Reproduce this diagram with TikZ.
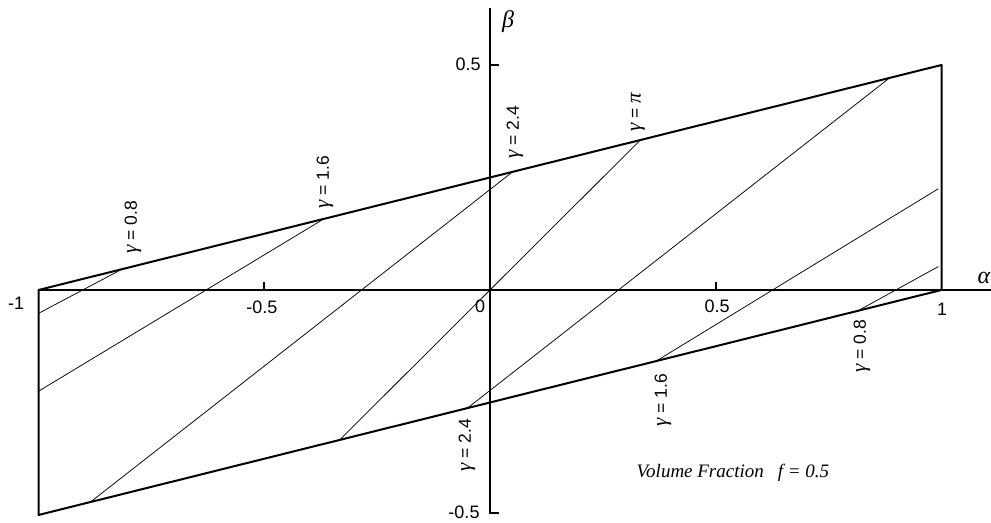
\documentclass[tikz,border=0pt]{standalone}
\usepackage{fontspec}
\setmainfont{Liberation Sans}
\newfontfamily\tms{Liberation Serif}
\newcommand{\gsym}{{\fontsize{21}{21}\selectfont\tms\itshape γ}}
\newcommand{\psym}{{\fontsize{21}{21}\selectfont\tms\itshape π}}
\begin{document}
\begin{tikzpicture}[x=451.5pt,y=450pt,
  bnd/.style={line width=2pt, line join=round},
  gline/.style={line width=0.75pt},
  axisline/.style={line width=1.6pt},
  ticklab/.style={font=\fontsize{18}{18}\selectfont, inner sep=0pt},
  glab/.style={font=\fontsize{17.5}{18}\selectfont, rotate=90, inner sep=0pt},
  axlab/.style={font=\fontsize{24}{24}\selectfont\tms\itshape, inner sep=0pt}
]
\useasboundingbox (-1.0853,-0.5178) rectangle (1.1096,0.6444);
% corners of the region
\coordinate (A) at (-1,0);
\coordinate (B) at (1,0.5);
\coordinate (C) at (1,0);
\coordinate (D) at (-1,-0.5);
% axes
\coordinate (xend) at (1.1096,0);
\coordinate (ytop) at (0,0.6267);
\coordinate (ybot) at (0,-0.4956);
\coordinate (ybt) at (0.0199,-0.4956);
\coordinate (yh) at (0,0.5);
\coordinate (yht) at (0.0199,0.5);
\coordinate (xm) at (-0.5,0);
\coordinate (xmt) at (-0.5,0.0178);
\coordinate (xp) at (0.5,0);
\coordinate (xpt) at (0.5,0.0178);
\draw[axisline] (A) -- (xend);
\draw[axisline] (ytop) -- (ybot) -- (ybt);
\draw[axisline] (yh) -- (yht);
\draw[axisline] (xm) -- (xmt);
\draw[axisline] (xp) -- (xpt);
% boundary
\draw[bnd] (A) -- (B) -- (C) -- (D) -- cycle;
% gamma lines: end points
\coordinate (u08) at (-0.815,0.04625);
\coordinate (e08) at (-1,-0.052);
\coordinate (u16) at (-0.368,0.158);
\coordinate (e16) at (-1,-0.225);
\coordinate (u24) at (0.05,0.2625);
\coordinate (m24) at (-0.885,-0.47125);
\coordinate (upi) at (0.333,0.33325);
\coordinate (lpi) at (-0.333,-0.33325);
\coordinate (l24) at (-0.05,-0.2625);
\coordinate (n24) at (0.885,0.47125);
\coordinate (l16) at (0.368,-0.158);
\coordinate (r16) at (0.993,0.225);
\coordinate (l08) at (0.815,-0.04625);
\coordinate (r08) at (0.993,0.052);
\draw[gline] (u08) -- (e08);
\draw[gline] (u16) -- (e16);
\draw[gline] (u24) -- (m24);
\draw[gline] (upi) -- (lpi);
\draw[gline] (l24) -- (n24);
\draw[gline] (l16) -- (r16);
\draw[gline] (l08) -- (r08);
% tick labels
\node[ticklab] (tm1) at (-1.0498,-0.0289) {-1};
\node[ticklab] (tm05) at (-0.505,-0.0378) {-0.5};
\node[ticklab] (t0) at (-0.0221,-0.0356) {0};
\node[ticklab] (t05) at (0.5028,-0.0356) {0.5};
\node[ticklab] (t1) at (1.0011,-0.0422) {1};
\node[ticklab] (b05) at (-0.0487,0.5022) {0.5};
\node[ticklab] (bm05) at (-0.0576,-0.4933) {-0.5};
\node[axlab] (blab) at (0.04,0.596) {β};
\node[axlab] (alab) at (1.0941,0.0267) {α};
% gamma labels
\node[glab] (g1) at (-0.7907,0.14) {\gsym{} = 0.8};
\node[glab] (g2) at (-0.3654,0.24) {\gsym{} = 1.6};
\node[glab] (g3) at (0.0554,0.3511) {\gsym{} = 2.4};
\node[glab] (g4) at (0.3278,0.3956) {\gsym{} = \psym};
\node[glab] (g5) at (-0.0509,-0.3444) {\gsym{} = 2.4};
\node[glab] (g6) at (0.3832,-0.2444) {\gsym{} = 1.6};
\node[glab] (g7) at (0.8239,-0.1244) {\gsym{} = 0.8};
% caption
\node[font=\fontsize{19}{19}\selectfont\tms\itshape, inner sep=0pt] (vf) at (0.5381,-0.4066) {Volume Fraction\hspace{14pt}f = 0.5};
\end{tikzpicture}
\end{document}
